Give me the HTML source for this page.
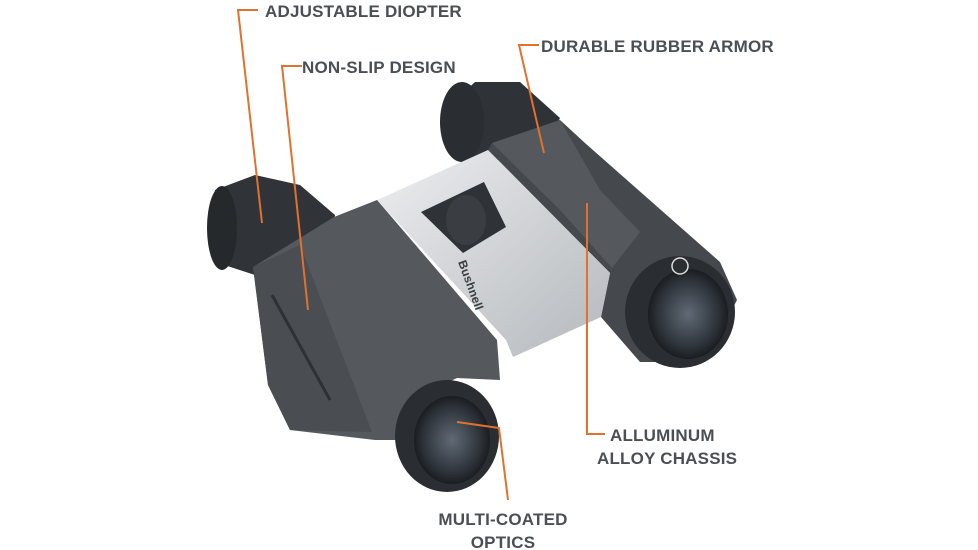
<!DOCTYPE html>
<html><head><style>
html,body{margin:0;padding:0;background:#fff;}
svg{display:block;}
text{font-family:"Liberation Sans",sans-serif;font-weight:bold;fill:#4b4f55;font-size:17px;letter-spacing:0.2px;}
</style></head><body>
<svg width="978" height="550" viewBox="0 0 978 550" xmlns="http://www.w3.org/2000/svg">
<defs>
<linearGradient id="silver" x1="0" y1="0" x2="1" y2="1">
<stop offset="0" stop-color="#eceef0"/><stop offset="1" stop-color="#b5b8bc"/></linearGradient>
<radialGradient id="lens" cx="0.5" cy="0.5" r="0.5">
<stop offset="0" stop-color="#606a76"/><stop offset="0.8" stop-color="#2a2f35"/><stop offset="1" stop-color="#1a1d20"/></radialGradient>
</defs>
<!-- right barrel -->
<polygon points="450,105 475,82 520,82 560,118 540,160 470,160" fill="#2f3236"/>
<ellipse cx="462" cy="122" rx="22" ry="40" fill="#2a2d31"/>
<polygon points="492,143 560,120 585,143 720,262 737,300 705,362 640,362 601,317 610,273 488,150" fill="#45494d"/>
<polygon points="492,143 560,120 600,190 640,232 612,268 560,210" fill="#55595d"/>
<ellipse cx="680" cy="312" rx="55" ry="56" fill="#2a2d31"/>
<ellipse cx="688" cy="314" rx="40" ry="45" fill="url(#lens)"/>
<circle cx="680" cy="266" r="8" fill="#2a2d31" stroke="#ddd" stroke-width="1.5"/>
<!-- silver bridge -->
<polygon points="377,200 488,150 610,273 601,317 513,357 506,340" fill="url(#silver)"/>
<polygon points="421,212 484,182 506,227 463,253" fill="#2f3236"/>
<ellipse cx="466" cy="220" rx="20" ry="25" fill="#3a3d41"/>
<text x="0" y="0" transform="translate(458,262) rotate(70)" style="font-size:12px;fill:#3a3d41">Bushnell</text>
<!-- left eyepiece -->
<polygon points="215,190 255,175 300,185 335,215 330,262 255,275 215,262" fill="#303337"/>
<ellipse cx="222" cy="228" rx="15" ry="42" fill="#26292c"/>
<!-- left barrel -->
<polygon points="253,267 334,217 377,200 497,340 500,380 457,378 420,395 405,440 375,440 290,430 268,385" fill="#55595d"/>
<polygon points="253,267 300,245 372,432 290,430 268,385" fill="#4a4d51"/>
<line x1="272" y1="295" x2="330" y2="400" stroke="#2e3134" stroke-width="3"/>
<ellipse cx="447" cy="436" rx="52" ry="56" fill="#2a2d31"/>
<ellipse cx="452" cy="440" rx="38" ry="44" fill="url(#lens)"/>
<!-- leaders -->
<g stroke="#e0712e" stroke-width="2" fill="none">
<polyline points="258,10 238,10 262,223"/>
<polyline points="302,66 282,66 308,310"/>
<polyline points="539,45 519,45 544,153"/>
<polyline points="605,434 587,434 587,203"/>
<polyline points="508,500 499,428 457,422"/>
</g>
<text x="265" y="17">ADJUSTABLE DIOPTER</text>
<text x="302" y="73">NON-SLIP DESIGN</text>
<text x="541" y="52">DURABLE RUBBER ARMOR</text>
<text x="610" y="441">ALLUMINUM</text>
<text x="597" y="464">ALLOY CHASSIS</text>
<text x="503" y="525" text-anchor="middle">MULTI-COATED</text>
<text x="503" y="548" text-anchor="middle">OPTICS</text>
</svg>
</body></html>
